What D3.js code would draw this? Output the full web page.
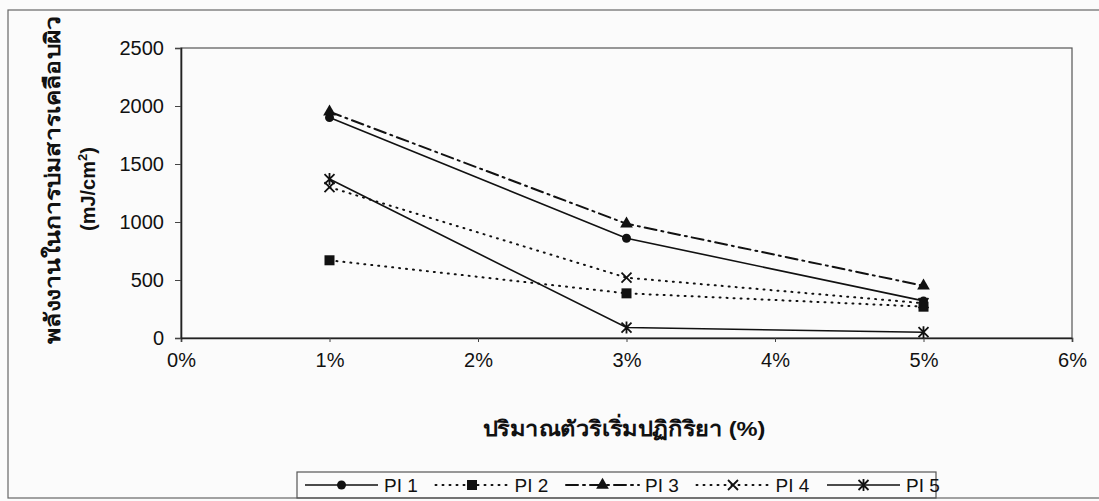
<!DOCTYPE html>
<html>
<head>
<meta charset="utf-8">
<script src="https://d3js.org/d3.v7.min.js"></script>
<style>
  body { margin: 0; background: #fbfbfb; }
  svg { display: block; }
  text { font-family: "Liberation Sans", Arial, sans-serif; fill: #111; }
</style>
</head>
<body>
<svg id="chart" width="1099" height="501"></svg>
<script>
// data
var xValues = [1, 3, 5];               // % initiator
var seriesNames = ["PI 1", "PI 2", "PI 3", "PI 4", "PI 5"];
var pi1 = [1900, 860, 320];
var pi2 = [670, 385, 270];
var pi3 = [1950, 985, 450];
var pi4 = [1300, 520, 300];
var pi5 = [1370, 90, 50];
var xTicks = [0, 1, 2, 3, 4, 5, 6];
var yTicks = [0, 500, 1000, 1500, 2000, 2500];
var yTitle1 = "พลังงานในการบ่มสารเคลือบผิว";
var yTitle2 = "(mJ/cm";
var xTitle = "ปริมาณตัวริเริ่มปฏิกิริยา (%)";

var allSeries = [pi1, pi2, pi3, pi4, pi5];
var dashes = [null, "1,6", "12,5,2,5", "1,6", null];
var markers = ["circle", "square", "triangle", "cross", "asterisk"];

var width = 1099, height = 501;
var margin = { top: 48, right: 27, bottom: 163, left: 181 };

var svg = d3.select("#chart");

var x = d3.scaleLinear()
  .domain([0, 6])
  .range([margin.left, width - margin.right]);

var y = d3.scaleLinear()
  .domain([0, 2500])
  .range([height - margin.bottom, margin.top]);

// outer frame (scanned chart border)
svg.append("rect")
  .attr("x", 8).attr("y", 10)
  .attr("width", 1110).attr("height", 488)
  .attr("fill", "none")
  .attr("stroke", "#666")
  .attr("stroke-width", 1.2);

// plot area frame
svg.append("rect")
  .attr("x", x(0)).attr("y", y(2500))
  .attr("width", x(6) - x(0)).attr("height", y(0) - y(2500))
  .attr("fill", "none")
  .attr("stroke", "#555")
  .attr("stroke-width", 1.2);

// axes
var xAxis = svg.append("g")
  .attr("transform", `translate(0,${y(0)})`)
  .call(d3.axisBottom(x).tickValues(xTicks).tickSize(4).tickPadding(11)
    .tickFormat(d => d + "%"));

var yAxis = svg.append("g")
  .attr("transform", `translate(${x(0)},0)`)
  .call(d3.axisLeft(y).tickValues(yTicks).tickSize(6).tickPadding(11)
    .tickFormat(d3.format("d")));

[xAxis, yAxis].forEach(g => {
  g.select(".domain").attr("stroke", "#222").attr("stroke-width", 1.6);
  g.selectAll(".tick line").attr("stroke", "#444").attr("stroke-width", 1);
  g.selectAll(".tick text")
    .attr("font-family", "'Liberation Sans', Arial, sans-serif")
    .attr("font-size", 20).attr("fill", "#111");
});

// axis titles
svg.append("text")
  .attr("transform", `translate(60,180) rotate(-90)`)
  .attr("text-anchor", "middle")
  .attr("font-size", 21).attr("font-weight", "bold")
  .attr("textLength", 328).attr("lengthAdjust", "spacingAndGlyphs")
  .text(yTitle1);

var t2 = svg.append("text")
  .attr("transform", `translate(95,231) rotate(-90)`)
  .attr("text-anchor", "start")
  .attr("font-size", 20).attr("font-weight", "bold");
t2.append("tspan").text(yTitle2);
t2.append("tspan").attr("dy", -8).attr("font-size", 13).text("2");
t2.append("tspan").attr("dy", 8).text(")");

svg.append("text")
  .attr("x", 624)
  .attr("y", 436)
  .attr("text-anchor", "middle")
  .attr("font-size", 21).attr("font-weight", "bold")
  .attr("textLength", 283).attr("lengthAdjust", "spacingAndGlyphs")
  .text(xTitle);

// marker drawing
function drawMarker(g, type, cx, cy) {
  if (type === "circle") {
    g.append("circle").attr("cx", cx).attr("cy", cy).attr("r", 4.5).attr("fill", "#111");
  } else if (type === "square") {
    g.append("rect").attr("x", cx - 5).attr("y", cy - 5).attr("width", 10).attr("height", 10).attr("fill", "#111");
  } else if (type === "triangle") {
    g.append("path").attr("d", d3.symbol(d3.symbolTriangle, 70)()).attr("transform", `translate(${cx},${cy})`).attr("fill", "#111");
  } else if (type === "cross") {
    g.append("path").attr("d", `M${cx - 5},${cy - 5}L${cx + 5},${cy + 5}M${cx - 5},${cy + 5}L${cx + 5},${cy - 5}`)
      .attr("stroke", "#111").attr("stroke-width", 1.8);
  } else if (type === "asterisk") {
    g.append("path").attr("d", `M${cx - 5},${cy - 5}L${cx + 5},${cy + 5}M${cx - 5},${cy + 5}L${cx + 5},${cy - 5}M${cx},${cy - 6}L${cx},${cy + 6}`)
      .attr("stroke", "#111").attr("stroke-width", 1.8);
  }
}

var line = d3.line()
  .x((d, i) => x(xValues[i]))
  .y(d => y(d));

allSeries.forEach((s, k) => {
  var g = svg.append("g");
  g.append("path")
    .datum(s)
    .attr("d", line)
    .attr("fill", "none")
    .attr("stroke", "#111")
    .attr("stroke-width", dashes[k] ? 2 : 1.6)
    .attr("stroke-linecap", dashes[k] ? "round" : "butt")
    .attr("stroke-dasharray", dashes[k]);
  s.forEach((v, i) => drawMarker(g, markers[k], x(xValues[i]), y(v)));
});

// legend
var legend = svg.append("g");
legend.append("rect")
  .attr("x", 297).attr("y", 472)
  .attr("width", 639).attr("height", 26)
  .attr("fill", "none")
  .attr("stroke", "#555")
  .attr("stroke-width", 1.2);

seriesNames.forEach((name, k) => {
  var x0 = 305 + k * 130.5;
  var cy = 485;
  var g = legend.append("g");
  g.append("line")
    .attr("x1", x0).attr("x2", x0 + 73)
    .attr("y1", cy).attr("y2", cy)
    .attr("stroke", "#111")
    .attr("stroke-width", dashes[k] ? 2 : 1.6)
    .attr("stroke-linecap", dashes[k] ? "round" : "butt")
    .attr("stroke-dasharray", dashes[k]);
  drawMarker(g, markers[k], x0 + 36.5, cy);
  g.append("text")
    .attr("x", x0 + 79).attr("y", cy + 7)
    .attr("font-size", 19)
    .text(name);
});
</script>
</body>
</html>
